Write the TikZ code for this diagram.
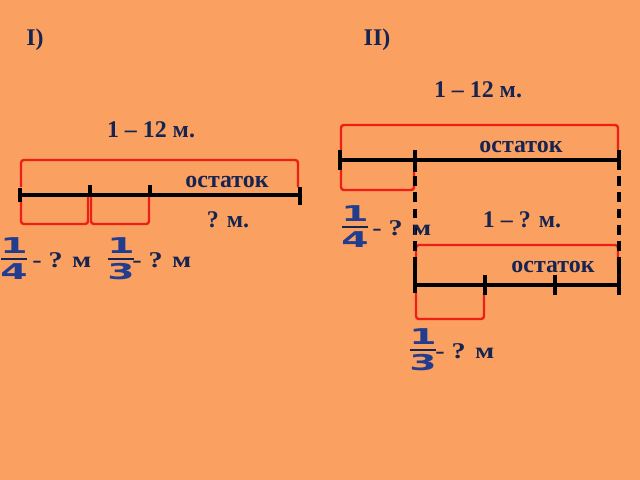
\documentclass[tikz,border=0pt]{standalone}
\usepackage{fontspec}
\setmainfont{Liberation Serif}
\newfontfamily\widefont[FakeStretch=1.25]{Liberation Serif}
\newfontfamily\digitfont[FakeStretch=1.8]{DejaVu Sans}
\definecolor{bgorange}{RGB}{250,160,96}
\definecolor{inkblue}{RGB}{22,36,82}
\definecolor{fracblue}{RGB}{34,60,142}
\definecolor{bracered}{RGB}{236,32,22}
\begin{document}
\begin{tikzpicture}[x=0.025cm, y=-0.025cm,
    segline/.style={draw=black, line width=2.3pt},
    brace/.style={draw=bracered, line width=1.7pt, rounded corners=2pt},
    guide/.style={draw=black, line width=2.2pt, dash pattern=on 7pt off 4.5pt},
    lbl/.style={text=inkblue, font=\bfseries\fontsize{17}{20}\selectfont, inner sep=0pt},
    qlbl/.style={text=inkblue, font=\widefont\bfseries\fontsize{16}{18}\selectfont, inner sep=0pt, anchor=base west},
    digit/.style={text=fracblue, font=\digitfont\bfseries\fontsize{15.5}{16}\selectfont, inner sep=0pt}]
  \fill[bgorange] (0,0) rectangle (640,480);
  \useasboundingbox (0,0) rectangle (640,480);
  \node[lbl, anchor=base] (headI) at (35,46) {I)};
  \node[lbl, anchor=base] (headII) at (377,46) {II)};
  % part I
  \foreach \n/\x in {a0/20,a1/90,a2/150,a3/300} \coordinate (\n) at (\x,195);
  \draw[brace] (21,187) -- (21,160) -- (298,160) -- (298,187);
  \draw[brace] (21,200) -- (21,224) -- (88,224) -- (88,197);
  \draw[brace] (91,197) -- (91,224) -- (149,224) -- (149,197);
  \draw[segline] (a0) -- (a3);
  \foreach \n/\up/\dn in {a0/7/7,a1/10/2,a2/10/2,a3/8/10}
    \draw[segline] (\n) ++(0,-\up) -- ++(0,\up+\dn);
  \node[lbl] (totalI) at (151,130) {1 – 12 м.};
  \node[lbl] (restI) at (227,182) {остаток};
  \node[lbl] (askI) at (228,220) {? м.};
  % part II
  \foreach \n/\x in {b0/340,b1/415,b2/619} \coordinate (\n) at (\x,160);
  \foreach \n/\x in {c0/415,c1/485,c2/555,c3/619} \coordinate (\n) at (\x,285);
  \draw[brace] (341,150) -- (341,125) -- (618,125) -- (618,150);
  \draw[brace] (341,170) -- (341,190) -- (414,190) -- (414,172);
  \draw[brace] (416,267) -- (416,245) -- (618,245) -- (618,267);
  \draw[brace] (416,293) -- (416,319) -- (484,319) -- (484,293);
  \draw[guide] (b1) -- (c0);
  \draw[guide] (b2) -- (c3);
  \draw[segline] (b0) -- (b2);
  \draw[segline] (c0) -- (c3);
  \foreach \n/\up/\dn in {b0/10/10,b1/10/12,b2/10/10,c0/18/8,c1/10/10,c2/10/10,c3/18/10}
    \draw[segline] (\n) ++(0,-\up) -- ++(0,\up+\dn);
  \node[lbl] (totalII) at (478,90) {1 – 12 м.};
  \node[lbl] (restII) at (521,147) {остаток};
  \node[lbl] (askII) at (522,220) {1 – ? м.};
  \node[lbl] (restIII) at (553,267) {остаток};
  % fractions
  \foreach \n/\x/\y/\num/\den/\lx in {f1/14/259/1/4/32, f2/121/259/1/3/132,
      f3/355/227/1/4/372, f4/423/350/1/3/435}{
    \node[digit] (\n num) at (\x,\y-13) {\num};
    \node[digit] (\n den) at (\x,\y+13) {\den};
    \draw[inkblue, line width=0.9pt] (\x-13,\y) -- (\x+13,\y);
    \node[qlbl] (\n txt) at (\lx,\y+8) {- ? м};
  }
\end{tikzpicture}
\end{document}
